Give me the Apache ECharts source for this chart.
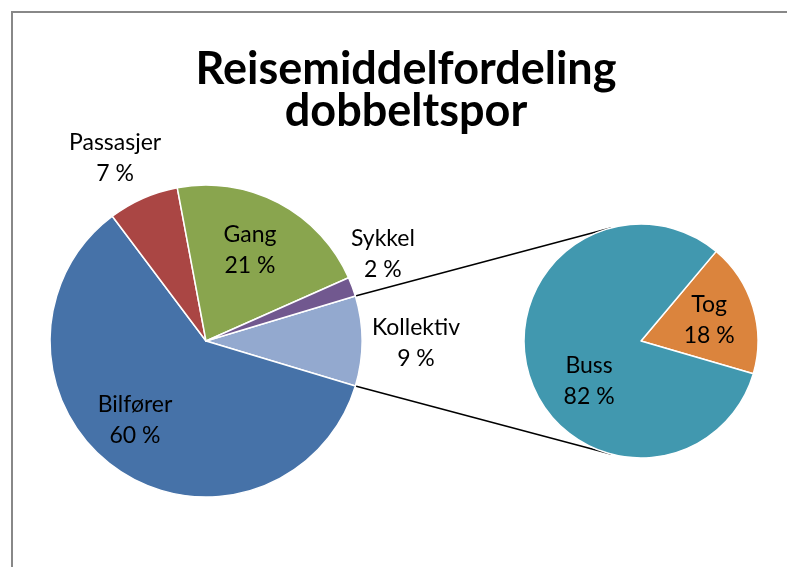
<!DOCTYPE html>
<html><head><meta charset="utf-8">
<script src="https://cdn.jsdelivr.net/npm/echarts@6/dist/echarts.min.js"></script>
<style>html,body{margin:0;padding:0;background:#fff}#c{width:787px;height:567px}</style>
</head><body><div id="c"></div>
<script>
// ---- data ----
const titleText = 'Reisemiddelfordeling\ndobbeltspor';
const mainCategories = ['Kollektiv', 'Bilfører', 'Passasjer', 'Gang', 'Sykkel'];
const mainValues = [9.3, 60.1, 7.3, 21.3, 2.0];
const subCategories = ['Tog', 'Buss'];
const subValues = [18.4, 81.6];

// ---- layout / style ----
const FONT = 'Lato';
const MAIN = { cx: 206, cy: 341, r: 156 };
const SUB = { cx: 641, cy: 341, r: 117, startAngle: 50 };
const colorMap = {
  'Bilfører': '#4672A8', 'Passasjer': '#AA4644', 'Gang': '#89A54E',
  'Sykkel': '#71588F', 'Kollektiv': '#93A9CF', 'Buss': '#4198AF', 'Tog': '#DB843D'
};
// label placement: [angle in degrees, distance as fraction of radius]
const labelPolar = {
  'Kollektiv': [-0.5, 1.346], 'Bilfører': [228, 0.68], 'Passasjer': [116.4, 1.31],
  'Gang': [64.2, 0.648], 'Sykkel': [26.2, 1.264], 'Buss': [217.6, 0.56], 'Tog': [17.2, 0.61]
};

const mainTotal = mainValues.reduce((a, b) => a + b, 0);
const mainStart = (mainValues[0] / mainTotal) * 360 / 2; // split slice centred at 3 o'clock

function labelLayoutFor(cats, geo) {
  return function (p) {
    const pol = labelPolar[cats[p.dataIndex]];
    const a = pol[0] * Math.PI / 180;
    return { x: geo.cx + pol[1] * geo.r * Math.cos(a), y: geo.cy - pol[1] * geo.r * Math.sin(a),
             align: 'center', verticalAlign: 'middle' };
  };
}
const labelCommon = {
  show: true, position: 'inside', color: '#000', fontFamily: FONT, fontSize: 23, lineHeight: 31,
  formatter: p => p.name + '\n' + Math.round(p.percent) + ' %'
};

// connector lines: from split slice edges to tangent points of secondary pie
const a1 = mainStart * Math.PI / 180, a2 = -mainStart * Math.PI / 180;
const pTop = [MAIN.cx + MAIN.r * Math.cos(a1), MAIN.cy - MAIN.r * Math.sin(a1)];
const pBot = [MAIN.cx + MAIN.r * Math.cos(a2), MAIN.cy - MAIN.r * Math.sin(a2)];
function tangent(P, upper) {
  const dx = P[0] - SUB.cx, dy = P[1] - SUB.cy;
  const d = Math.hypot(dx, dy), th = Math.atan2(dy, dx), al = Math.acos(SUB.r / d);
  const c1 = [SUB.cx + SUB.r * Math.cos(th + al), SUB.cy + SUB.r * Math.sin(th + al)];
  const c2 = [SUB.cx + SUB.r * Math.cos(th - al), SUB.cy + SUB.r * Math.sin(th - al)];
  return upper ? (c1[1] < c2[1] ? c1 : c2) : (c1[1] > c2[1] ? c1 : c2);
}
const tTop = tangent(pTop, true), tBot = tangent(pBot, false);

const chart = echarts.init(document.getElementById('c'), null, { renderer: 'canvas' });
chart.setOption({
  animation: false,
  backgroundColor: '#fff',
  title: {
    text: titleText, left: 401, top: 43, textAlign: 'center',
    textStyle: { fontFamily: FONT, fontSize: 45, fontWeight: 'bold', color: '#000', lineHeight: 42 }
  },
  graphic: [
    { type: 'rect', z: 0, shape: { x: 12, y: 12, width: 820, height: 620 },
      style: { fill: 'none', stroke: '#888', lineWidth: 2 } },
    { type: 'line', z: 1, shape: { x1: pTop[0], y1: pTop[1], x2: tTop[0], y2: tTop[1] },
      style: { stroke: '#000', lineWidth: 1.5 } },
    { type: 'line', z: 1, shape: { x1: pBot[0], y1: pBot[1], x2: tBot[0], y2: tBot[1] },
      style: { stroke: '#000', lineWidth: 1.5 } }
  ],
  series: [
    {
      type: 'pie', name: 'main', center: [MAIN.cx, MAIN.cy], radius: MAIN.r,
      startAngle: mainStart, clockwise: true, percentPrecision: 1, z: 3,
      itemStyle: { borderColor: '#fff', borderWidth: 1.5 },
      label: labelCommon, labelLine: { show: false },
      labelLayout: labelLayoutFor(mainCategories, MAIN),
      emphasis: { disabled: true },
      data: mainCategories.map((c, i) => ({ name: c, value: mainValues[i], itemStyle: { color: colorMap[c] } }))
    },
    {
      type: 'pie', name: 'sub', center: [SUB.cx, SUB.cy], radius: SUB.r,
      startAngle: SUB.startAngle, clockwise: true, percentPrecision: 1, z: 3,
      itemStyle: { borderColor: '#fff', borderWidth: 1.5 },
      label: labelCommon, labelLine: { show: false },
      labelLayout: labelLayoutFor(subCategories, SUB),
      emphasis: { disabled: true },
      data: subCategories.map((c, i) => ({ name: c, value: subValues[i], itemStyle: { color: colorMap[c] } }))
    }
  ]
});
</script></body></html>
